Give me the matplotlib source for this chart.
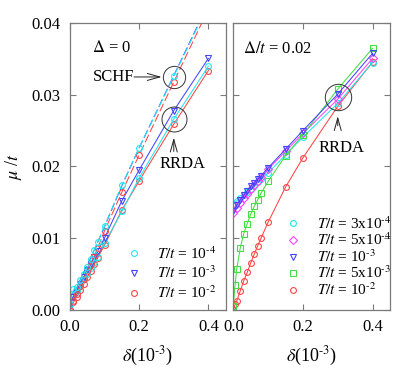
import numpy as np
import matplotlib
matplotlib.use("Agg")
import matplotlib.pyplot as plt
from matplotlib.lines import Line2D

plt.rcParams['font.family'] = 'serif'
plt.rcParams['font.serif'] = ['Liberation Serif', 'DejaVu Serif']
plt.rcParams['mathtext.fontset'] = 'stix'

# DATA ---------------------------------------------------------------------------------------------
# left panel, Delta = 0
x_left = [0.0, 0.01, 0.02, 0.03, 0.04, 0.05, 0.06, 0.07, 0.08, 0.1, 0.15, 0.2, 0.3, 0.4]

schf_t4 = [0.0008, 0.0028, 0.0031, 0.0041, 0.0050, 0.0060, 0.0070, 0.0083, 0.0094, 0.0117, 0.0174, 0.0226, 0.0326, 0.0426]
schf_t3 = [0.0006, 0.0025, 0.0032, 0.0042, 0.0052, 0.0062, 0.0072, 0.0083, 0.0094, 0.0116, 0.0173, 0.0226, 0.0327, 0.0428]
schf_t2 = [0.0000, 0.0012, 0.0022, 0.0033, 0.0043, 0.0054, 0.0064, 0.0075, 0.0086, 0.0110, 0.0164, 0.0216, 0.0318, 0.0420]

rrda_t4 = [0.0006, 0.0020, 0.0026, 0.0033, 0.0042, 0.0050, 0.0058, 0.0066, 0.0074, 0.0093, 0.0137, 0.0184, 0.0266, 0.0340]
rrda_t3 = [0.0005, 0.0018, 0.0027, 0.0036, 0.0046, 0.0055, 0.0064, 0.0073, 0.0082, 0.0100, 0.0152, 0.0195, 0.0278, 0.0351]
rrda_t2 = [0.0000, 0.0010, 0.0018, 0.0027, 0.0036, 0.0045, 0.0054, 0.0063, 0.0072, 0.0090, 0.0139, 0.0180, 0.0259, 0.0334]

# right panel, Delta/t = 0.02
x_right_low = [0.0, 0.01, 0.02, 0.03, 0.04, 0.05, 0.06, 0.07, 0.08, 0.1, 0.15, 0.2, 0.3, 0.4]
x_right_high = [0.0, 0.005, 0.01, 0.02, 0.03, 0.04, 0.05, 0.06, 0.07, 0.08, 0.1, 0.15, 0.2, 0.3, 0.4]

r_3e4 = [0.0148, 0.0152, 0.0156, 0.0160, 0.0164, 0.0168, 0.0173, 0.0178, 0.0182, 0.0191, 0.0216, 0.0241, 0.0288, 0.0345]
r_5e4 = [0.0135, 0.0142, 0.0149, 0.0156, 0.0162, 0.0168, 0.0174, 0.0180, 0.0185, 0.0196, 0.0221, 0.0246, 0.0294, 0.0351]
r_1e3 = [0.0138, 0.0146, 0.0153, 0.0160, 0.0166, 0.0172, 0.0177, 0.0182, 0.0187, 0.0198, 0.0224, 0.0250, 0.0301, 0.0358]
r_5e3 = [0.0005, 0.0034, 0.0057, 0.0086, 0.0106, 0.0120, 0.0133, 0.0144, 0.0153, 0.0163, 0.0179, 0.0215, 0.0244, 0.0308, 0.0365]
r_1e2 = [0.0000, 0.0007, 0.0012, 0.0026, 0.0040, 0.0052, 0.0065, 0.0077, 0.0089, 0.0100, 0.0122, 0.0171, 0.0212, 0.0284, 0.0346]

left_labels = [r'$T/t$ = 10$^{\text{-}4}$', r'$T/t$ = 10$^{\text{-}3}$', r'$T/t$ = 10$^{\text{-}2}$']
right_labels = [r'$T/t$ = 3x10$^{\text{-}4}$', r'$T/t$ = 5x10$^{\text{-}4}$', r'$T/t$ = 10$^{\text{-}3}$',
                r'$T/t$ = 5x10$^{\text{-}3}$', r'$T/t$ = 10$^{\text{-}2}$']

# STYLE --------------------------------------------------------------------------------------------
cyan = '#22e6f0'
blue = '#4444ff'
red = '#ff4444'
green = '#44dd44'
magenta = '#ff44ff'
spine_col = '#7a7a7a'
ms = 4.2
mew = 0.8
lw = 0.75

fig = plt.figure(figsize=(4.09, 3.85), dpi=100)
axL = fig.add_axes([0.1711, 0.1961, 0.3807, 0.7434])
axR = fig.add_axes([0.5704, 0.1961, 0.3831, 0.7434])

for ax in (axL, axR):
    ax.set_xlim(0, 0.45)
    ax.set_ylim(0, 0.04)
    ax.set_xticks([0.0, 0.2, 0.4])
    ax.set_xticklabels(['0.0', '0.2', '0.4'])
    ax.set_yticks([0.0, 0.01, 0.02, 0.03, 0.04])
    ax.tick_params(direction='in', top=True, right=True, length=4, width=0.8,
                   color=spine_col, labelsize=12, pad=7)
    for s in ax.spines.values():
        s.set_color(spine_col)
        s.set_linewidth(0.9)
    ax.set_xlabel(r'$\delta$(10$^{\text{-}3}$)', fontsize=13, labelpad=7)

axL.set_yticklabels(['0.00', '0.01', '0.02', '0.03', '0.04'])
axR.set_yticklabels([])
axL.set_ylabel(r'$\mu$ /$t$', fontsize=13, labelpad=5)


def series(ax, x, y, color, marker, ls='-'):
    line, = ax.plot(x, y, color=color, lw=lw, ls=ls, marker=marker, ms=ms,
                    mfc='none', mec=color, mew=mew)
    if ls == '--':
        line.set_dashes([8, 3])
    return line


# LEFT PANEL ---------------------------------------------------------------------------------------
series(axL, x_left, rrda_t2, red, 'o')
series(axL, x_left, rrda_t4, cyan, 'o')
series(axL, x_left, rrda_t3, blue, 'v')
series(axL, x_left, schf_t2, red, 'o', '--')
series(axL, x_left, schf_t3, blue, 'none', '--')
series(axL, x_left, schf_t4, cyan, 'o', '--')

axL.text(0.063, 0.0365, r'$\Delta$ = 0', fontsize=12, va='center')
axL.text(0.065, 0.0325, 'SCHF', fontsize=12, va='center')
axL.annotate('', xy=(0.273, 0.0325), xytext=(0.177, 0.0325),
             arrowprops=dict(arrowstyle='->,head_length=0.9,head_width=0.25', lw=0.7, color='#222222'))
axL.plot([0.300], [0.0325], 'o', ms=16, mfc='none', mec='#333333', mew=0.7)
axL.plot([0.300], [0.0266], 'o', ms=18, mfc='none', mec='#333333', mew=0.7)
axL.annotate('', xy=(0.300, 0.0244), xytext=(0.300, 0.0217),
             arrowprops=dict(arrowstyle='->,head_length=0.9,head_width=0.25', lw=0.7, color='#222222'))
axL.text(0.325, 0.0203, 'RRDA', fontsize=12, ha='center', va='center')

h_left = [Line2D([], [], ls='none', marker=m, ms=ms, mfc='none', mec=c, mew=mew)
          for m, c in [('o', cyan), ('v', blue), ('o', red)]]
axL.legend(h_left, left_labels, loc='lower left', bbox_to_anchor=(0.36, 0.03),
           frameon=False, fontsize=11, handlelength=1.0, handletextpad=1.0,
           labelspacing=0.2, borderpad=0, borderaxespad=0)

# RIGHT PANEL --------------------------------------------------------------------------------------
series(axR, x_right_high, r_1e2, red, 'o')
series(axR, x_right_low, r_3e4, cyan, 'o')
series(axR, x_right_low, r_5e4, magenta, 'D')
series(axR, x_right_high, r_5e3, green, 's')
series(axR, x_right_low, r_1e3, blue, 'v')

axR.text(0.027, 0.0364, r'$\Delta/t$ = 0.02', fontsize=12, va='center')
axR.plot([0.300], [0.0297], 'o', ms=19, mfc='none', mec='#333333', mew=0.7)
axR.annotate('', xy=(0.300, 0.0274), xytext=(0.300, 0.0253),
             arrowprops=dict(arrowstyle='->,head_length=0.9,head_width=0.25', lw=0.7, color='#222222'))
axR.text(0.312, 0.0226, 'RRDA', fontsize=12, ha='center', va='center')

h_right = [Line2D([], [], ls='none', marker=m, ms=ms, mfc='none', mec=c, mew=mew)
           for m, c in [('o', cyan), ('D', magenta), ('v', blue), ('s', green), ('o', red)]]
axR.legend(h_right, right_labels, loc='lower left', bbox_to_anchor=(0.33, 0.04),
           frameon=False, fontsize=11, handlelength=1.0, handletextpad=1.1,
           labelspacing=0.0, borderpad=0, borderaxespad=0)

fig.savefig('out.png', dpi=100)
